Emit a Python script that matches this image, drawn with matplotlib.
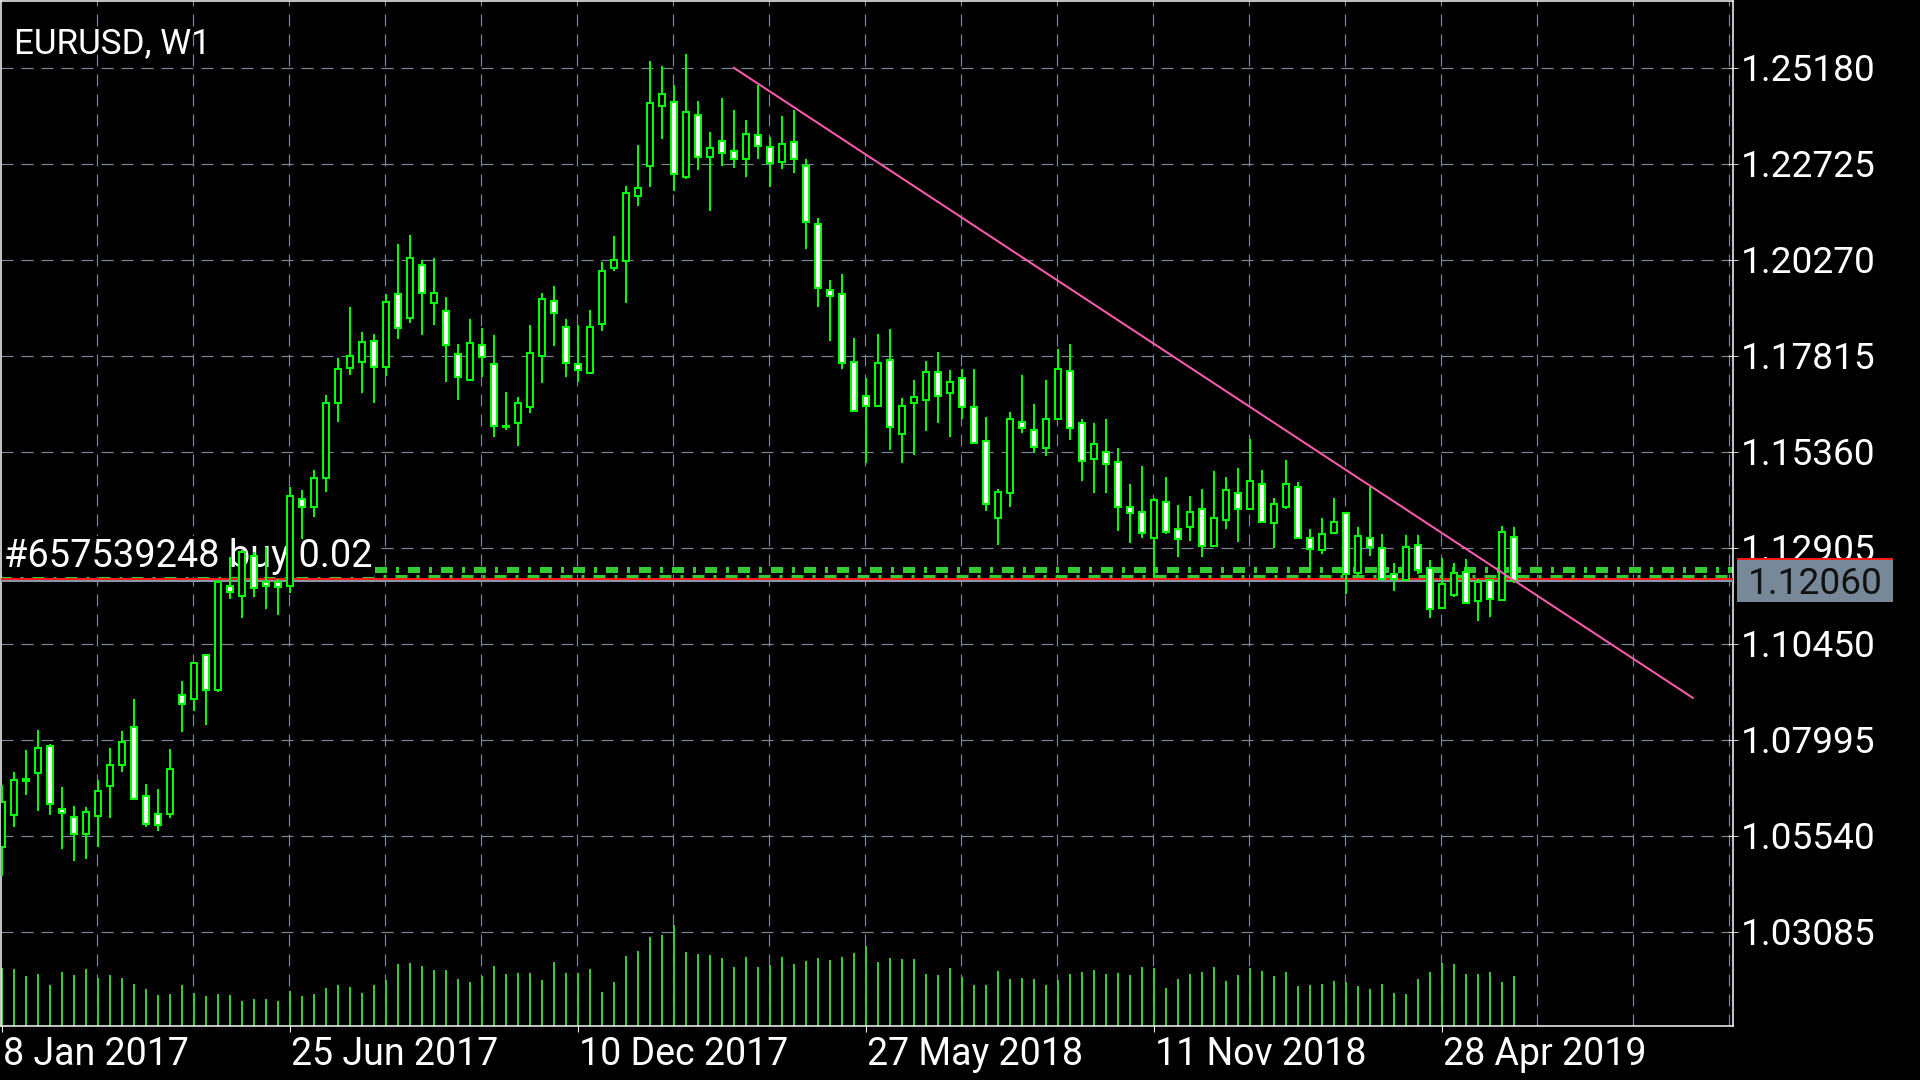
import numpy as np
import pandas as pd
import matplotlib
matplotlib.use('Agg')
import matplotlib.pyplot as plt
from matplotlib.patches import Rectangle
from matplotlib.transforms import offset_copy

plt.rcParams['font.family'] = ['Roboto', 'DejaVu Sans']
plt.rcParams['lines.scale_dashes'] = False

symbol = 'EURUSD, W1'
order_text = '#657539248 buy 0.02'

# weekly bars, first one is the week of 8 Jan 2017
dates = pd.date_range('2017-01-08', periods=127, freq='7D')

opens = [1.0525, 1.0606, 1.0694, 1.0715, 1.0783, 1.0623, 1.0602, 1.0558, 1.0604, 1.0680,
         1.0734, 1.0832, 1.0656, 1.0608, 1.0608, 1.0913, 1.0904, 1.1015, 1.0926, 1.1192,
         1.1166, 1.1268, 1.1203, 1.1203, 1.1192, 1.1415, 1.1393, 1.1469, 1.1659, 1.1749,
         1.1765, 1.1819, 1.1751, 1.1940, 1.1878, 1.2014, 1.1915, 1.1896, 1.1785, 1.1720,
         1.1808, 1.1759, 1.1598, 1.1608, 1.1650, 1.1780, 1.1921, 1.1855, 1.1760, 1.1736,
         1.1862, 1.2004, 1.2024, 1.2189, 1.2266, 1.2419, 1.2430, 1.2237, 1.2396, 1.2289,
         1.2330, 1.2305, 1.2283, 1.2345, 1.2315, 1.2277, 1.2328, 1.2266, 1.2119, 1.1950,
         1.1938, 1.1765, 1.1678, 1.1652, 1.1770, 1.1581, 1.1659, 1.1667, 1.1740, 1.1685,
         1.1723, 1.1650, 1.1563, 1.1365, 1.1430, 1.1612, 1.1592, 1.1544, 1.1618, 1.1742,
         1.1609, 1.1516, 1.1535, 1.1510, 1.1393, 1.1382, 1.1314, 1.1407, 1.1337, 1.1343,
         1.1388, 1.1295, 1.1362, 1.1429, 1.1388, 1.1454, 1.1352, 1.1393, 1.1446, 1.1314,
         1.1284, 1.1328, 1.1378, 1.1226, 1.1316, 1.1288, 1.1222, 1.1207, 1.1297, 1.1237,
         1.1137, 1.1169, 1.1228, 1.1154, 1.1207, 1.1156, 1.1318]
highs = [1.0683, 1.0717, 1.0772, 1.0825, 1.0787, 1.0677, 1.0629, 1.0626, 1.0696, 1.0779,
         1.0821, 1.0902, 1.0685, 1.0674, 1.0774, 1.0949, 1.0996, 1.1015, 1.1207, 1.1265,
         1.1284, 1.1279, 1.1292, 1.1211, 1.1444, 1.1437, 1.1488, 1.1680, 1.1774, 1.1906,
         1.1842, 1.1836, 1.1938, 1.2066, 1.2089, 1.2027, 1.2030, 1.1932, 1.1812, 1.1876,
         1.1853, 1.1834, 1.1689, 1.1676, 1.1859, 1.1942, 1.1959, 1.1874, 1.1859, 1.1899,
         1.2021, 1.2087, 1.2214, 1.2319, 1.2535, 1.2521, 1.2473, 1.2552, 1.2432, 1.2352,
         1.2441, 1.2409, 1.2385, 1.2473, 1.2341, 1.2393, 1.2410, 1.2285, 1.2134, 1.1974,
         1.1991, 1.1825, 1.1723, 1.1836, 1.1848, 1.1672, 1.1719, 1.1768, 1.1791, 1.1744,
         1.1748, 1.1748, 1.1623, 1.1441, 1.1637, 1.1731, 1.1657, 1.1720, 1.1799, 1.1812,
         1.1620, 1.1608, 1.1618, 1.1546, 1.1453, 1.1499, 1.1418, 1.1470, 1.1399, 1.1422,
         1.1439, 1.1486, 1.1471, 1.1493, 1.1567, 1.1488, 1.1416, 1.1514, 1.1458, 1.1337,
         1.1367, 1.1416, 1.1378, 1.1343, 1.1446, 1.1326, 1.1250, 1.1322, 1.1322, 1.1258,
         1.1263, 1.1250, 1.1260, 1.1209, 1.1211, 1.1345, 1.1342]
lows = [1.0450, 1.0576, 1.0657, 1.0617, 1.0606, 1.0519, 1.0490, 1.0493, 1.0524, 1.0598,
        1.0717, 1.0645, 1.0576, 1.0566, 1.0600, 1.0819, 1.0873, 1.0836, 1.0921, 1.1160,
        1.1109, 1.1164, 1.1132, 1.1118, 1.1173, 1.1311, 1.1369, 1.1433, 1.1612, 1.1732,
        1.1686, 1.1660, 1.1729, 1.1823, 1.1864, 1.1834, 1.1859, 1.1714, 1.1668, 1.1717,
        1.1727, 1.1572, 1.1592, 1.1550, 1.1635, 1.1712, 1.1806, 1.1727, 1.1714, 1.1734,
        1.1845, 1.1998, 1.1915, 1.2163, 1.2213, 1.2334, 1.2203, 1.2234, 1.2257, 1.2151,
        1.2267, 1.2260, 1.2238, 1.2283, 1.2213, 1.2259, 1.2249, 1.2053, 1.1906, 1.1819,
        1.1748, 1.1637, 1.1506, 1.1650, 1.1541, 1.1506, 1.1527, 1.1589, 1.1610, 1.1572,
        1.1618, 1.1557, 1.1384, 1.1297, 1.1393, 1.1584, 1.1531, 1.1524, 1.1616, 1.1565,
        1.1461, 1.1430, 1.1430, 1.1333, 1.1301, 1.1314, 1.1212, 1.1326, 1.1267, 1.1308,
        1.1267, 1.1294, 1.1339, 1.1305, 1.1387, 1.1352, 1.1288, 1.1390, 1.1315, 1.1228,
        1.1275, 1.1326, 1.1171, 1.1217, 1.1268, 1.1207, 1.1180, 1.1205, 1.1224, 1.1109,
        1.1135, 1.1165, 1.1147, 1.1103, 1.1113, 1.1156, 1.1200]
closes = [1.0640, 1.0697, 1.0698, 1.0778, 1.0634, 1.0611, 1.0558, 1.0615, 1.0668, 1.0734,
          1.0794, 1.0647, 1.0583, 1.0581, 1.0723, 1.0890, 1.0996, 1.0926, 1.1203, 1.1177,
          1.1279, 1.1188, 1.1192, 1.1190, 1.1422, 1.1394, 1.1467, 1.1660, 1.1748, 1.1779,
          1.1817, 1.1752, 1.1919, 1.1851, 1.2031, 1.1942, 1.1942, 1.1808, 1.1727, 1.1814,
          1.1777, 1.1601, 1.1601, 1.1659, 1.1787, 1.1927, 1.1889, 1.1763, 1.1744, 1.1855,
          1.1998, 1.2025, 1.2197, 1.2211, 1.2426, 1.2451, 1.2245, 1.2404, 1.2289, 1.2313,
          1.2300, 1.2284, 1.2347, 1.2317, 1.2274, 1.2323, 1.2283, 1.2122, 1.1953, 1.1933,
          1.1763, 1.1639, 1.1652, 1.1763, 1.1598, 1.1652, 1.1676, 1.1740, 1.1678, 1.1714,
          1.1649, 1.1558, 1.1401, 1.1433, 1.1618, 1.1595, 1.1548, 1.1618, 1.1746, 1.1595,
          1.1512, 1.1554, 1.1505, 1.1395, 1.1380, 1.1328, 1.1413, 1.1329, 1.1311, 1.1382,
          1.1295, 1.1365, 1.1437, 1.1388, 1.1461, 1.1356, 1.1403, 1.1452, 1.1315, 1.1286,
          1.1326, 1.1356, 1.1222, 1.1320, 1.1292, 1.1209, 1.1209, 1.1292, 1.1233, 1.1132,
          1.1197, 1.1226, 1.1149, 1.1203, 1.1160, 1.1331, 1.1206]
# tick volume, thousands
volumes = [58, 57, 50, 52, 41, 54, 51, 57, 48, 51, 48, 42, 37, 31, 32, 41, 33, 30, 32, 31,
           25, 27, 27, 25, 35, 30, 32, 38, 41, 39, 33, 41, 46, 62, 63, 60, 56, 56, 47, 44,
           50, 60, 52, 53, 53, 46, 64, 53, 53, 57, 34, 44, 70, 75, 89, 91, 101, 74, 72, 71,
           68, 59, 69, 59, 61, 69, 62, 65, 68, 66, 69, 73, 80, 64, 68, 67, 67, 52, 51, 58,
           49, 41, 41, 55, 47, 48, 47, 41, 46, 52, 54, 56, 52, 53, 51, 59, 58, 38, 47, 52,
           54, 59, 45, 51, 58, 55, 50, 54, 40, 41, 42, 45, 44, 40, 37, 42, 33, 32, 47, 54,
           63, 62, 52, 52, 54, 44, 50]

price_ticks = [1.25180, 1.22725, 1.20270, 1.17815, 1.15360, 1.12905, 1.10450, 1.07995, 1.05540, 1.03085]
date_tick_idx = [0, 24, 48, 72, 96, 120]

bid = 1.12060
ask = 1.12100
order_price = 1.12330
trend_x = [61.0, 140.9]
trend_y = [1.2517, 1.0906]

W, H = 1920, 1080
fig = plt.figure(figsize=(19.2, 10.8), dpi=100, facecolor='black')
ax = fig.add_axes([1 / W, 1 - 1026 / H, 1732 / W, 1025 / H])
ax.set_facecolor('black')
ax.set_xlim(-1 / 12, 1731 / 12)
ax.set_ylim(1.006684, 1.268806)

grid_col = '#7b8799'
px = 0.72  # points per pixel
for p in price_ticks:
    ax.axhline(p, color=grid_col, lw=1.2 * px, dashes=[12 * px, 8 * px], zorder=0)
for j in range(1, 19):
    ax.axvline(8 * j - 0.08, color=grid_col, lw=1.2 * px, dashes=[12 * px, 8 * px], zorder=0)

x = np.arange(len(opens))
o = np.array(opens); c = np.array(closes)
hi = np.array(highs); lo = np.array(lows)

# volume at the bottom of the window
vol_top = max(volumes) / 0.0985
ax.vlines(x, 0, np.array(volumes) / vol_top, color='#32cd32', lw=2 * px,
          transform=ax.get_xaxis_transform(), zorder=2)

# order lines
xr = 1731 / 12
dash = [12 * px, 9 * px, 3 * px, 9 * px]
ax.plot([31.1, xr], [order_price] * 2, color='#32cd32', lw=6 * px, dashes=dash,
        solid_capstyle='butt', dash_capstyle='butt', zorder=1)
low_tr = offset_copy(ax.transData, fig=fig, y=-6.5, units='dots')
ax.plot([-1, xr], [order_price] * 2, color='#32cd32', lw=3 * px, dashes=dash,
        dash_capstyle='butt', transform=low_tr, zorder=1)

ax.text(3 / 12 - 1 / 12, order_price, order_text, color='white', fontsize=38 * px,
        va='baseline', ha='left', zorder=2.5,
        transform=offset_copy(ax.transData, fig=fig, y=3, units='dots'),
        bbox=dict(facecolor='black', edgecolor='none', pad=1.5))

ax.axhline(ask, color='#ff1a1a', lw=2 * px, zorder=2.6)
ax.axhline(bid, color='#8a95a6', lw=2 * px, zorder=2.6)

# candles
ax.vlines(x, lo, hi, color='#00ff00', lw=2 * px, zorder=3)
fills = np.where(c >= o, 'black', 'white')
ax.bar(x, np.abs(c - o), bottom=np.minimum(o, c), width=0.5, color=fills,
       edgecolor='#00ff00', linewidth=2 * px, zorder=4)

ax.plot(trend_x, trend_y, color='#ff5cb0', lw=2 * px, zorder=5)

for s in ax.spines.values():
    s.set_color('white')
    s.set_linewidth(1.5 * px)

ax.yaxis.tick_right()
ax.set_yticks(price_ticks)
ax.set_yticklabels([])
ax.tick_params(axis='y', direction='inout', length=10 * px, width=1 * px, color='#c8c8c8')
ax.set_xticks(date_tick_idx)
ax.set_xticklabels([])
ax.tick_params(axis='x', direction='out', length=6 * px, width=1 * px, color='white')

ytr = offset_copy(ax.get_yaxis_transform(), fig=fig, y=-13, units='dots')
for p in price_ticks:
    ax.text(1 + 8 / 1732, p, f'{p:.5f}', color='white', fontsize=37 * px,
            va='baseline', ha='left', transform=ytr, clip_on=False)

for k in date_tick_idx:
    d = dates[k]
    ax.text(k + 1 / 12, -39 / 1025, f'{d.day} {d.strftime("%b %Y")}', color='white',
            fontsize=37.5 * px, va='baseline', ha='left',
            transform=ax.get_xaxis_transform(), clip_on=False)

ax.text(13 / 1732, 1 - 52 / 1025, symbol, color='white', fontsize=35 * px,
        va='baseline', ha='left', transform=ax.transAxes)

# bid / ask price boxes on the scale
fig.canvas.draw()
for price, col in [(ask, '#ff1a1a'), (bid, '#778899')]:
    yd = ax.transData.transform((0, price))[1]
    fig.add_artist(Rectangle((1737 / W, (yd - 21) / H), 156 / W, 42 / H,
                             transform=fig.transFigure, facecolor=col, edgecolor='none'))
yb = ax.transData.transform((0, bid))[1]
fig.text(1815 / W, (yb - 13) / H, f'{bid:.5f}', color='#111111', fontsize=37 * px,
         ha='center', va='baseline')

fig.savefig('out.png', dpi=100, facecolor='black')
